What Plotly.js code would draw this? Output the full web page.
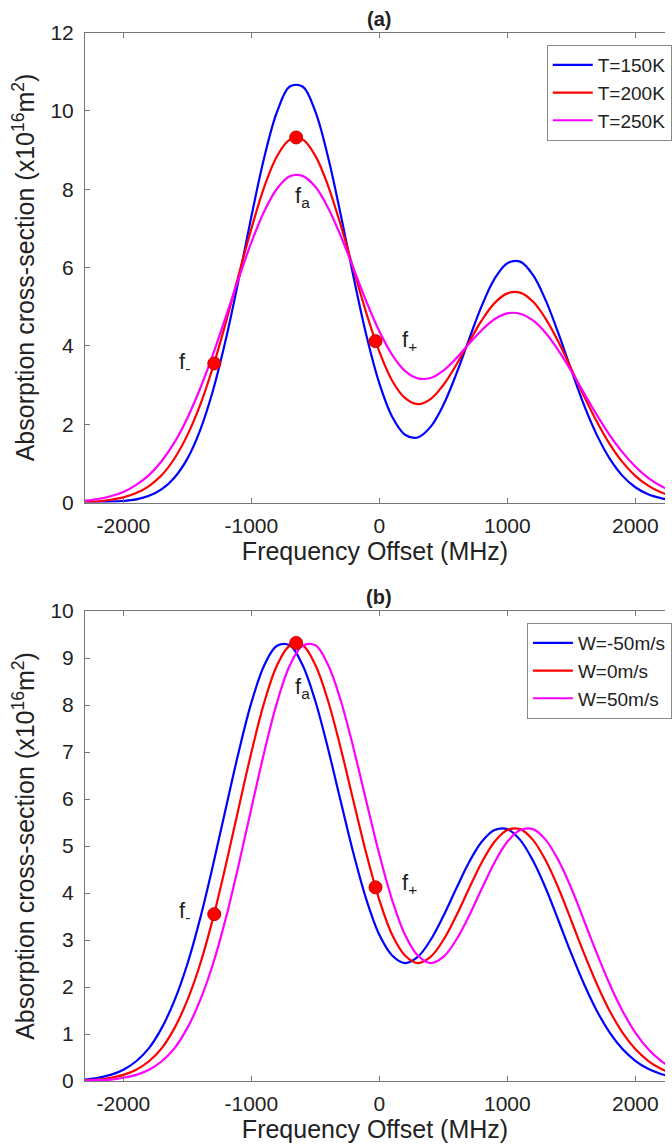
<!DOCTYPE html>
<html><head><meta charset="utf-8">
<script src="https://cdn.plot.ly/plotly-3.0.1.min.js"></script>
<style>html,body{margin:0;padding:0;background:#fff}#chart{width:672px;height:1144px}</style>
</head><body><div id="chart"></div>
<script>
// Frequency offset grid (MHz)
const freq = [-2300,-2200,-2100,-2000,-1900,-1800,-1700,-1600,-1500,-1400,-1300,-1200,-1100,-1000,-900,-800,-700,-600,-500,-400,-300,-200,-100,0,100,200,300,400,500,600,700,800,900,1000,1100,1200,1300,1400,1500,1600,1700,1800,1900,2000,2100,2200,2300];

// Panel (a): temperature series (x10^16 m^2)
const sigmaT150 = [0.00,0.01,0.02,0.04,0.08,0.17,0.34,0.64,1.12,1.85,2.86,4.16,5.68,7.30,8.80,9.97,10.62,10.62,9.98,8.81,7.32,5.73,4.25,3.04,2.19,1.73,1.66,1.93,2.49,3.27,4.16,5.02,5.71,6.11,6.15,5.81,5.16,4.31,3.38,2.48,1.72,1.12,0.68,0.39,0.21,0.11,0.05];
const sigmaT200 = [0.02,0.03,0.07,0.13,0.24,0.42,0.70,1.13,1.72,2.49,3.46,4.59,5.80,6.99,8.05,8.84,9.26,9.27,8.85,8.08,7.06,5.93,4.82,3.85,3.11,2.67,2.51,2.64,3.00,3.51,4.09,4.65,5.09,5.34,5.36,5.13,4.69,4.10,3.41,2.71,2.06,1.49,1.03,0.68,0.43,0.26,0.15];
const sigmaT250 = [0.05,0.09,0.16,0.27,0.45,0.70,1.06,1.54,2.16,2.91,3.78,4.74,5.71,6.64,7.43,8.01,8.33,8.34,8.06,7.52,6.79,5.96,5.12,4.37,3.77,3.36,3.17,3.18,3.37,3.68,4.05,4.40,4.68,4.83,4.82,4.65,4.33,3.88,3.35,2.79,2.23,1.72,1.28,0.92,0.63,0.42,0.27];

// Panel (b): wind series (x10^16 m^2)
const sigmaWm50 = [0.03,0.07,0.13,0.24,0.42,0.70,1.13,1.72,2.49,3.46,4.59,5.80,6.99,8.05,8.84,9.26,9.27,8.85,8.08,7.06,5.93,4.82,3.85,3.11,2.67,2.51,2.64,3.00,3.51,4.09,4.65,5.09,5.34,5.36,5.13,4.69,4.10,3.41,2.71,2.06,1.49,1.03,0.68,0.43,0.26,0.15,0.08];
const sigmaW0 = [0.02,0.03,0.07,0.13,0.24,0.42,0.70,1.13,1.72,2.49,3.46,4.59,5.80,6.99,8.05,8.84,9.26,9.27,8.85,8.08,7.06,5.93,4.82,3.85,3.11,2.67,2.51,2.64,3.00,3.51,4.09,4.65,5.09,5.34,5.36,5.13,4.69,4.10,3.41,2.71,2.06,1.49,1.03,0.68,0.43,0.26,0.15];
const sigmaWp50 = [0.01,0.02,0.03,0.07,0.13,0.24,0.42,0.70,1.13,1.72,2.49,3.46,4.59,5.80,6.99,8.05,8.84,9.26,9.27,8.85,8.08,7.06,5.93,4.82,3.85,3.11,2.67,2.51,2.64,3.00,3.51,4.09,4.65,5.09,5.34,5.36,5.13,4.69,4.10,3.41,2.71,2.06,1.49,1.03,0.68,0.43,0.26];

// Marked frequencies f-, fa, f+
const markFreq = [-1290, -650, -30];
const markValue = [3.55, 9.32, 4.12];
const markLabels = ['f<sub>-</sub>', 'f<sub>a</sub>', 'f<sub>+</sub>'];

const legendA = ['T=150K', 'T=200K', 'T=250K'];
const legendB = ['W=-50m/s', 'W=0m/s', 'W=50m/s'];
const xTicks = [-2000, -1000, 0, 1000, 2000];

const FONT = 'Liberation Sans, Arial, Helvetica, sans-serif';
const colors = ['#0000ff', '#ff0000', '#ff00ff'];
const seriesA = [sigmaT150, sigmaT200, sigmaT250];
const seriesB = [sigmaWm50, sigmaW0, sigmaWp50];

const traces = [];
seriesA.forEach((s, i) => traces.push({
  x: freq, y: s, type: 'scatter', mode: 'lines', name: legendA[i],
  line: {color: colors[i], width: 2.2, shape: 'spline', smoothing: 1},
  xaxis: 'x', yaxis: 'y', legend: 'legend'
}));
traces.push({x: markFreq, y: markValue, type: 'scatter', mode: 'markers', showlegend: false,
  marker: {color: '#ff0000', size: 13, line: {color: '#cc0000', width: 1}}, xaxis: 'x', yaxis: 'y'});
seriesB.forEach((s, i) => traces.push({
  x: freq, y: s, type: 'scatter', mode: 'lines', name: legendB[i],
  line: {color: colors[i], width: 2.2, shape: 'spline', smoothing: 1},
  xaxis: 'x2', yaxis: 'y2', legend: 'legend2'
}));
traces.push({x: markFreq, y: markValue, type: 'scatter', mode: 'markers', showlegend: false,
  marker: {color: '#ff0000', size: 13, line: {color: '#cc0000', width: 1}}, xaxis: 'x2', yaxis: 'y2'});

const H = 1144, W = 672;
const axisCommon = {
  showgrid: false, zeroline: false, showline: true, linecolor: '#777', linewidth: 1,
  ticks: 'inside', ticklen: 5, tickcolor: '#777', tickwidth: 1,
  tickfont: {family: FONT, size: 21, color: '#222'}
};
const xCommon = Object.assign({}, axisCommon, {
  range: [-2300, 2232], tickvals: xTicks, ticktext: xTicks.map(String), mirror: 'ticks',
  ticklabelstandoff: 4,
  title: {text: 'Frequency Offset (MHz)', font: {family: FONT, size: 25, color: '#222'}, standoff: 4}
});
const yTitle = 'Absorption cross-section (x10<sup>16</sup>m<sup>2</sup>)';

const annFont = {family: FONT, size: 22, color: '#222'};
const annsFor = (xr, yr, ys) => [
  {x: -1520, y: ys[0], text: markLabels[0]},
  {x: -600, y: ys[1], text: markLabels[1]},
  {x: 235, y: ys[2], text: markLabels[2]}
].map(a => Object.assign(a, {xref: xr, yref: yr, showarrow: false, font: annFont, xanchor: 'center', yanchor: 'middle'}));

const legendCommon = {xanchor: 'left', yanchor: 'top', bgcolor: '#fff', bordercolor: '#888', borderwidth: 1,
  font: {family: FONT, size: 19, color: '#222'}, itemwidth: 40, tracegroupgap: 0};

const layout = {
  width: W, height: H, margin: {l: 85, r: 0, t: 0, b: 0},
  paper_bgcolor: '#fff', plot_bgcolor: '#fff', font: {family: FONT, color: '#222'},
  xaxis: Object.assign({}, xCommon, {anchor: 'y', domain: [0, 1]}),
  yaxis: Object.assign({}, axisCommon, {anchor: 'x', domain: [1 - 502.5 / H, 1 - 32.5 / H], range: [0, 12], dtick: 2, tick0: 0,
    ticklabelstandoff: 6, title: {text: yTitle, font: {family: FONT, size: 25, color: '#222'}, standoff: 8}}),
  xaxis2: Object.assign({}, xCommon, {anchor: 'y2', domain: [0, 1]}),
  yaxis2: Object.assign({}, axisCommon, {anchor: 'x2', domain: [1 - 1081 / H, 1 - 611 / H], range: [0, 10], dtick: 1, tick0: 0,
    ticklabelstandoff: 6, title: {text: yTitle, font: {family: FONT, size: 25, color: '#222'}, standoff: 8}}),
  legend: Object.assign({x: 535 / W, y: 1 - 45 / H}, legendCommon),
  legend2: Object.assign({x: 512 / W, y: 1 - 623 / H}, legendCommon),
  annotations: [
    {text: '<b>(a)</b>', xref: 'paper', yref: 'paper', x: (383 - 85) / 587, y: 1 - 19 / H, showarrow: false,
      font: {family: FONT, size: 20, color: '#222'}, xanchor: 'center', yanchor: 'middle'},
    {text: '<b>(b)</b>', xref: 'paper', yref: 'paper', x: (383 - 85) / 587, y: 1 - 597 / H, showarrow: false,
      font: {family: FONT, size: 20, color: '#222'}, xanchor: 'center', yanchor: 'middle'}
  ].concat(annsFor('x', 'y', [3.56, 7.8, 4.12])).concat(annsFor('x2', 'y2', [3.6, 8.36, 4.19]))
};

Plotly.newPlot('chart', traces, layout, {staticPlot: true, displayModeBar: false});
</script>
</body></html>
